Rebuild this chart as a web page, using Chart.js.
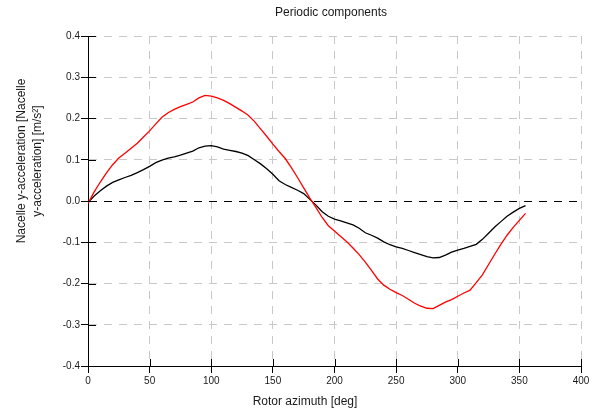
<!DOCTYPE html>
<html>
<head>
<meta charset="utf-8">
<title>Periodic components</title>
<script src="https://cdn.jsdelivr.net/npm/chart.js@4/dist/chart.umd.min.js"></script>
<style>
  html, body { margin: 0; padding: 0; background: #fff; }
  #wrap { width: 597px; height: 414px; }
</style>
</head>
<body>
<div id="wrap"><canvas id="periodicChart" width="597" height="414"></canvas></div>
<script>
// rotor azimuth [deg]
const azimuth = [
  0, 5, 10, 15, 20, 25, 30, 35, 40, 45, 50, 55, 60, 65, 70, 75, 80, 85,
  90, 95, 100, 105, 110, 115, 120, 125, 130, 135, 140, 145, 150, 155, 160, 165,
  170, 175, 180, 185, 190, 195, 200, 205, 210, 215, 220, 225, 230, 235, 240, 245,
  250, 255, 260, 265, 270, 275, 280, 285, 290, 295, 300, 305, 310, 315, 320, 325,
  330, 335, 340, 345, 350, 355,
];

// red curve
const redSeries = [
  -0.006, 0.022, 0.046, 0.068, 0.088, 0.104, 0.116, 0.128, 0.140, 0.155, 0.170, 0.187,
  0.203, 0.214, 0.222, 0.229, 0.234, 0.240, 0.250, 0.256, 0.254, 0.250, 0.244, 0.236,
  0.227, 0.218, 0.208, 0.193, 0.175, 0.157, 0.138, 0.120, 0.103, 0.081, 0.057, 0.032,
  0.007, -0.016, -0.040, -0.060, -0.073, -0.086, -0.099, -0.114, -0.130, -0.148, -0.168, -0.189,
  -0.204, -0.214, -0.222, -0.229, -0.238, -0.248, -0.255, -0.260, -0.261, -0.253, -0.245, -0.239,
  -0.231, -0.223, -0.216, -0.198, -0.179, -0.154, -0.129, -0.105, -0.083, -0.064, -0.047, -0.030,
];

// black curve
const blackSeries = [
  -0.004, 0.012, 0.025, 0.036, 0.045, 0.051, 0.057, 0.062, 0.069, 0.076, 0.084, 0.093,
  0.099, 0.104, 0.107, 0.111, 0.116, 0.121, 0.129, 0.133, 0.134, 0.131, 0.126, 0.123,
  0.120, 0.116, 0.110, 0.100, 0.090, 0.078, 0.065, 0.049, 0.040, 0.033, 0.026, 0.018,
  0.004, -0.010, -0.026, -0.037, -0.044, -0.048, -0.053, -0.058, -0.066, -0.077, -0.083, -0.090,
  -0.099, -0.106, -0.111, -0.115, -0.120, -0.125, -0.130, -0.135, -0.138, -0.137, -0.131, -0.124,
  -0.119, -0.115, -0.110, -0.105, -0.093, -0.078, -0.063, -0.050, -0.037, -0.027, -0.018, -0.011,
];

const xTicks = [0, 50, 100, 150, 200, 250, 300, 350, 400];
const yTicks = [-0.4, -0.3, -0.2, -0.1, 0.0, 0.1, 0.2, 0.3, 0.4];

const chartTitle = "Periodic components";
const xTitle = "Rotor azimuth [deg]";
const yTitle = ["Nacelle y-acceleration [Nacelle", "y-acceleration] [m/s\u00b2]"];

const FONT = "'Liberation Sans', Arial, sans-serif";

function toPoints(values) {
  return azimuth.map((a, i) => ({ x: a, y: values[i] }));
}

// ticks that cross the axis line, plus the texts placed like the original
const decorations = {
  id: "decorations",
  afterDraw(chart) {
    const { ctx, chartArea } = chart;
    const xs = chart.scales.x;
    const ys = chart.scales.y;
    ctx.save();
    ctx.strokeStyle = "#000";
    ctx.lineWidth = 1;
    ctx.beginPath();
    xTicks.forEach((t) => {
      const px = Math.round(xs.getPixelForValue(t)) + 0.5;
      ctx.moveTo(px, chartArea.bottom);
      ctx.lineTo(px, chartArea.bottom - 7);
    });
    yTicks.forEach((t) => {
      const py = Math.round(ys.getPixelForValue(t)) + 0.5;
      ctx.moveTo(chartArea.left, py);
      ctx.lineTo(chartArea.left + 8, py);
    });
    ctx.stroke();

    ctx.fillStyle = "#1a1a1a";
    ctx.font = "12px " + FONT;
    ctx.textAlign = "center";
    ctx.textBaseline = "middle";
    ctx.fillText(chartTitle, 331, 13);
    ctx.fillText(xTitle, 305, 402);

    ctx.translate(30, 161);
    ctx.rotate(-Math.PI / 2);
    ctx.fillText(yTitle[0], 0, -8);
    ctx.fillText(yTitle[1], 0, 7.5);
    ctx.restore();
  },
};

const ctx = document.getElementById("periodicChart").getContext("2d");
new Chart(ctx, {
  type: "line",
  data: {
    datasets: [
      {
        label: "red",
        data: toPoints(redSeries),
        borderColor: "#ff0000",
        borderWidth: 1.3,
        pointRadius: 0,
        tension: 0,
        fill: false,
      },
      {
        label: "black",
        data: toPoints(blackSeries),
        borderColor: "#000000",
        borderWidth: 1.3,
        pointRadius: 0,
        tension: 0,
        fill: false,
      },
    ],
  },
  options: {
    responsive: false,
    animation: false,
    layout: {
      padding: { left: 0, top: 36, right: 16, bottom: 0 },
    },
    plugins: {
      legend: { display: false },
      title: { display: false },
      tooltip: { enabled: false },
    },
    scales: {
      x: {
        type: "linear",
        min: 0,
        max: 400,
        afterFit: (scale) => { scale.height = 48; },
        afterBuildTicks: (scale) => { scale.ticks = xTicks.map((v) => ({ value: v })); },
        ticks: {
          color: "#1a1a1a",
          padding: 2,
          maxRotation: 0,
          font: { family: FONT, size: 10 },
        },
        grid: {
          color: (c) => (c.tick && c.tick.value === 0 ? "rgba(0,0,0,0)" : "#c8c8c8"),
          lineWidth: 1,
          tickLength: 7,
          tickColor: "#000",
        },
        border: { display: true, color: "#000", width: 1, dash: [8, 7] },
      },
      y: {
        min: -0.4,
        max: 0.4,
        afterFit: (scale) => { scale.width = 88; },
        afterBuildTicks: (scale) => { scale.ticks = yTicks.map((v) => ({ value: v })); },
        ticks: {
          color: "#1a1a1a",
          padding: 1,
          font: { family: FONT, size: 10 },
          callback: (v) => Number(v).toFixed(1),
        },
        grid: {
          color: (c) => {
            if (!c.tick) return "#c8c8c8";
            if (Math.abs(c.tick.value) < 1e-9) return "#000";
            if (Math.abs(c.tick.value + 0.4) < 1e-9) return "rgba(0,0,0,0)";
            return "#c8c8c8";
          },
          lineWidth: 1,
          tickLength: 7,
          tickColor: "#000",
        },
        border: { display: true, color: "#000", width: 1, dash: [8, 7] },
      },
    },
  },
  plugins: [decorations],
});
</script>
</body>
</html>
